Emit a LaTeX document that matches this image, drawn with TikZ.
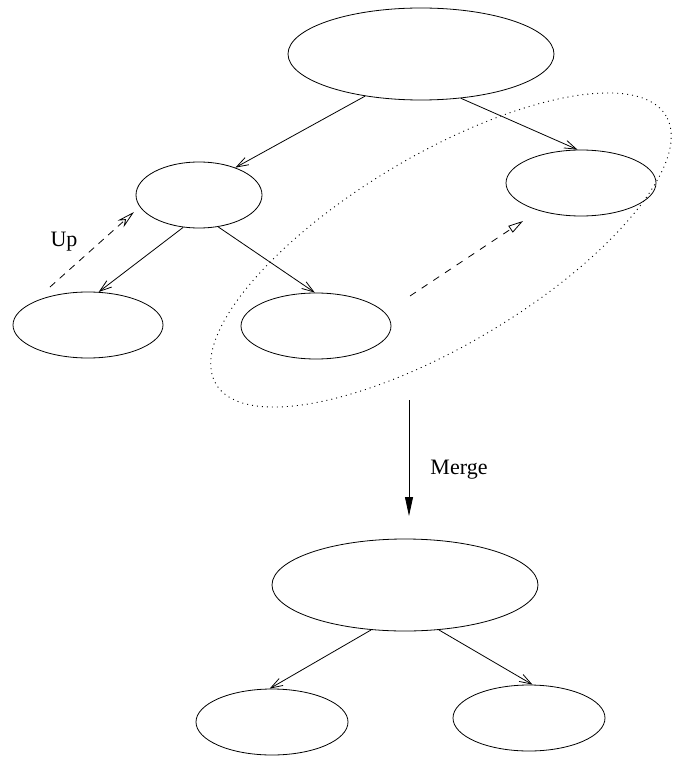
\documentclass[tikz,border=0pt]{standalone}
\usepackage{fontspec}
\setmainfont{Liberation Serif}
\usetikzlibrary{shapes.geometric,arrows.meta}
\begin{document}
\begin{tikzpicture}[x=1pt,y=-1pt,line width=0.8pt,
  blob/.style={draw,ellipse,inner sep=0pt},
  bigblob/.style={blob,minimum width=266pt,minimum height=92pt},
  smallblob/.style={blob,minimum width=150pt,minimum height=66pt},
  edge/.style={-{Straight Barb[length=12pt,width=8pt]}},
  upmove/.style={dashed,dash pattern=on 7pt off 6pt,-{Stealth[open,length=18pt,width=9pt,inset=6pt]}},
  sidemove/.style={dashed,dash pattern=on 7pt off 7pt,-{Triangle[open,length=15pt,width=8pt]}},
  label/.style={font=\fontsize{22}{26}\selectfont}]
\useasboundingbox (0,0) rectangle (673,759);

% tree before merging
\node[bigblob] (root) at (421,54) {};
\node[blob,minimum width=126pt,minimum height=66pt] (left) at (199,195) {};
\node[smallblob] (right) at (581,183) {};
\node[smallblob] (ll) at (88,325) {};
\node[smallblob] (lr) at (316,326) {};

\draw[edge] (root.217) -- (left.37);
\draw[edge] (root.312) -- (right.96);
\draw[edge] (left.244) -- (ll.72);
\draw[edge] (left.301) -- (lr.92);

% subtree being merged
\draw[dash pattern=on 1pt off 4pt,line width=0.9pt] (441,250) ellipse[x radius=262pt,y radius=95pt,rotate=30.8];

% moves
\coordinate (upfrom) at (50,287);
\coordinate (upto) at (134,212);
\draw[upmove] (upfrom) -- (upto);
\node[label] (up) at (64,242) {Up};

\coordinate (sidefrom) at (410,296);
\coordinate (sideto) at (523,221);
\draw[sidemove] (sidefrom) -- (sideto);

% merge step
\coordinate (mfrom) at (409,400);
\coordinate (mto) at (409,516);
\draw[-{Triangle[length=19pt,width=8pt]}] (mfrom) -- (mto);
\node[label] (merge) at (459,470) {Merge};

% tree after merging
\node[bigblob] (mroot) at (405,585) {};
\node[blob,minimum width=152pt,minimum height=66pt] (ml) at (272,722) {};
\node[blob,minimum width=152pt,minimum height=66pt] (mr) at (529,718) {};

\draw[edge] (mroot.233) -- (ml.94);
\draw[edge] (mroot.307) -- (mr.84);
\end{tikzpicture}
\end{document}
